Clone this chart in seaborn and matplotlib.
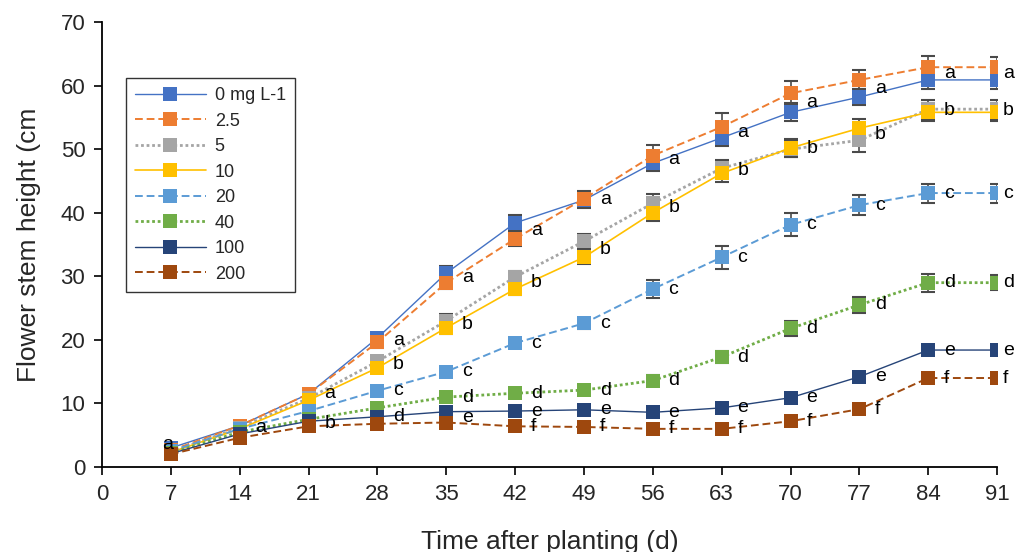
import numpy as np
import pandas as pd
import matplotlib
matplotlib.use('Agg')
import matplotlib.pyplot as plt
import seaborn as sns

#style
sns.set_style('white')
plt.rcParams['font.family'] = ['Liberation Sans', 'DejaVu Sans']

#data
days = [7, 14, 21, 28, 35, 42, 49, 56, 63, 70, 77, 84, 91]
series_names = ['0 mg L-1', '2.5', '5', '10', '20', '40', '100', '200']

h_0 = [3.0, 6.5, 11.5, 20.3, 30.5, 38.4, 42.0, 47.8, 51.8, 55.8, 58.2, 60.9, 60.9]
h_2_5 = [2.6, 6.5, 11.5, 19.6, 29.0, 35.9, 42.2, 49.0, 53.5, 58.8, 60.9, 62.9, 62.9]
h_5 = [2.4, 6.2, 10.8, 16.6, 23.0, 29.9, 35.5, 41.5, 47.0, 50.0, 51.4, 56.3, 56.3]
h_10 = [2.3, 6.0, 10.5, 15.6, 21.9, 28.0, 33.0, 40.0, 46.2, 50.2, 53.3, 55.8, 55.8]
h_20 = [2.5, 6.0, 8.8, 12.0, 15.0, 19.5, 22.6, 28.0, 33.0, 38.1, 41.2, 43.1, 43.1]
h_40 = [2.2, 5.5, 7.5, 9.3, 11.0, 11.6, 12.1, 13.6, 17.3, 21.8, 25.5, 29.0, 29.0]
h_100 = [2.1, 5.2, 7.2, 7.9, 8.7, 8.8, 9.0, 8.6, 9.3, 10.9, 14.2, 18.4, 18.4]
h_200 = [2.0, 4.6, 6.4, 6.8, 7.0, 6.4, 6.3, 6.0, 6.0, 7.2, 9.1, 14.0, 14.0]

#standard errors
e_0 = [0.3, 0.4, 0.5, 0.8, 1.2, 1.3, 1.2, 1.3, 1.3, 1.4, 1.3, 1.5, 1.5]
e_2_5 = [0.3, 0.4, 0.5, 0.8, 1.0, 1.1, 1.2, 1.6, 2.2, 1.9, 1.5, 1.8, 1.6]
e_5 = [0.3, 0.4, 0.5, 0.8, 1.0, 1.0, 1.2, 1.5, 1.3, 1.3, 1.8, 1.5, 1.5]
e_10 = [0.3, 0.4, 0.5, 0.8, 0.9, 1.0, 1.0, 1.3, 1.3, 1.4, 1.4, 1.4, 1.4]
e_20 = [0.3, 0.4, 0.5, 0.6, 0.7, 0.8, 0.9, 1.4, 1.8, 1.8, 1.6, 1.5, 1.5]
e_40 = [0.3, 0.4, 0.4, 0.5, 0.6, 0.7, 0.7, 0.8, 0.9, 1.2, 1.3, 1.4, 1.2]
e_100 = [0.2, 0.3, 0.3, 0.4, 0.4, 0.4, 0.4, 0.4, 0.5, 0.5, 0.6, 0.7, 0.7]
e_200 = [0.2, 0.3, 0.3, 0.4, 0.4, 0.4, 0.4, 0.4, 0.4, 0.5, 0.6, 0.7, 0.7]

#significance letters
l_0 = ['a', 'a', 'a', 'a', 'a', 'a', 'a', 'a', 'a', 'a', 'a', 'a', 'a']
l_2_5 = ['', 'a', 'a', 'a', 'a', 'a', 'a', 'a', 'a', 'a', 'a', 'a', 'a']
l_5 = ['', 'a', '', 'b', 'b', 'b', 'b', 'b', 'b', 'b', 'b', 'b', 'b']
l_10 = ['', 'a', '', 'b', 'b', 'b', 'b', 'b', 'b', 'b', 'b', 'b', 'b']
l_20 = ['', 'a', '', 'c', 'c', 'c', 'c', 'c', 'c', 'c', 'c', 'c', 'c']
l_40 = ['', '', '', 'd', 'd', 'd', 'd', 'd', 'd', 'd', 'd', 'd', 'd']
l_100 = ['', '', 'b', 'd', 'e', 'e', 'e', 'e', 'e', 'e', 'e', 'e', 'e']
l_200 = ['', '', 'b', 'd', 'e', 'f', 'f', 'f', 'f', 'f', 'f', 'f', 'f']

heights = [h_0, h_2_5, h_5, h_10, h_20, h_40, h_100, h_200]
errors = [e_0, e_2_5, e_5, e_10, e_20, e_40, e_100, e_200]
letters = [l_0, l_2_5, l_5, l_10, l_20, l_40, l_100, l_200]

#colours and line styles (excel like)
colours = ['#4472C4', '#ED7D31', '#A5A5A5', '#FFC000', '#5B9BD5', '#70AD47', '#264478', '#9E480E']
styles = ['-', (0, (4, 2)), (0, (1, 1)), '-', (0, (4, 2)), (0, (1, 1)), '-', (0, (4, 2))]
widths = [1.0, 1.4, 2.0, 1.2, 1.4, 2.0, 1.0, 1.4]

fig = plt.figure(figsize=(10.16, 5.52), dpi=100)
ax = fig.add_axes([0.1004, 0.154, 0.881, 0.806])

for name, h, e, c, ls, lw in zip(series_names, heights, errors, colours, styles, widths):
    ax.errorbar(days, h, yerr=e, fmt='none', ecolor='#4a4a4a', elinewidth=1.2,
                capsize=5, capthick=1.5, zorder=2)
    sns.lineplot(x=days, y=h, ax=ax, color=c, linestyle=ls, linewidth=lw,
                 marker='s', markersize=10, markeredgewidth=0, label=name,
                 zorder=3, legend=False)

#letters: one per group, placed at the mean of the group
for i, d in enumerate(days):
    groups = {}
    for h, l in zip(heights, letters):
        if l[i]:
            groups.setdefault(l[i], []).append(h[i])
    if i == 0:
        dx, ha, dy = -0.3, 'center', 0.6
    elif i == len(days) - 1:
        dx, ha, dy = 0.6, 'left', 0
    else:
        dx, ha, dy = 1.6, 'left', 0
    for let, vals in groups.items():
        ax.text(d + dx, np.mean(vals) + dy, let, fontsize=14, ha=ha, va='center',
                color='black', zorder=4)

#axes
ax.set_xlim(0, 91)
ax.set_ylim(0, 70)
ax.set_xticks(range(0, 92, 7))
ax.set_yticks(range(0, 71, 10))
ax.tick_params(axis='both', direction='out', length=6, width=1.2, color='black',
               bottom=True, left=True, labelsize=16, pad=6)
ax.spines['top'].set_visible(False)
ax.spines['right'].set_visible(False)
for s in ['left', 'bottom']:
    ax.spines[s].set_color('black')
    ax.spines[s].set_linewidth(1.3)
ax.set_xlabel('Time after planting (d)', fontsize=19, labelpad=18)
ax.set_ylabel('Flower stem height (cm', fontsize=19, labelpad=14)

#legend
leg = ax.legend(loc='upper left', bbox_to_anchor=(0.027, 0.874), fontsize=13,
                frameon=True, fancybox=False, edgecolor='black', handlelength=3.9,
                labelspacing=0.47, borderpad=0.5, handletextpad=0.5, borderaxespad=0)
leg.get_frame().set_linewidth(1.0)

fig.savefig('out.png', dpi=100, facecolor='white')
